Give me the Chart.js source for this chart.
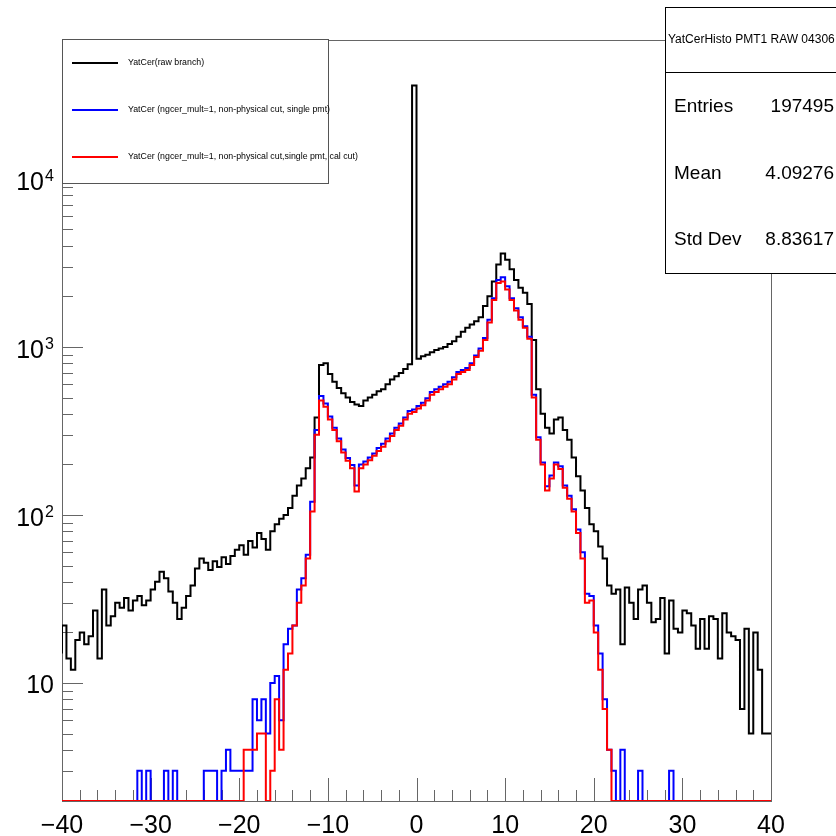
<!DOCTYPE html>
<html>
<head>
<meta charset="utf-8">
<title>YatCerHisto PMT1 RAW 04306</title>
<script src="https://cdn.jsdelivr.net/npm/chart.js@4.4.1/dist/chart.umd.min.js"></script>
<style>
  html, body { margin: 0; padding: 0; background: #fff; }
  #wrap { width: 836px; height: 836px; }
</style>
</head>
<body>
<div id="wrap"><canvas id="yatcer" width="836" height="836"></canvas></div>
<script>
// histogram binning (160 bins of 0.5 from -40 to 40)
const binLow = -40;
const binWidth = 0.5;

// YatCer (raw branch)
const rawCounts = [
  15, 22, 14, 12, 18, 20, 17, 19, 27, 14,
  36, 22, 25, 30, 28, 32, 27, 31, 33, 29,
  31, 36, 40, 46, 42, 35, 30, 24, 28, 33,
  38, 48, 55, 52, 47, 53, 49, 56, 51, 57,
  62, 66, 58, 70, 64, 78, 72, 62, 80, 88,
  95, 100, 110, 130, 150, 165, 190, 220, 380, 780,
  800, 690, 620, 570, 530, 500, 470, 455, 445, 480,
  500, 520, 545, 560, 600, 640, 670, 700, 740, 790,
  36000, 850, 880, 900, 930, 960, 980, 1000, 1040, 1080,
  1150, 1230, 1300, 1360, 1420, 1500, 1750, 2000, 2450, 3100,
  3600, 3300, 2900, 2500, 2250, 2100, 1800, 1100, 560, 400,
  330, 305, 370, 380, 320, 280, 220, 170, 140, 110,
  88, 80, 65, 55, 38, 34, 36, 17, 37, 30,
  24, 36, 38, 30, 23, 24, 32, 15, 31, 21,
  20, 27, 26, 22, 16, 24, 16, 25, 24, 14,
  26, 20, 19, 18, 7, 21, 5, 20, 12, 5
];

// YatCer (ngcer_mult=1, non-physical cut, single pmt)
const singlePmtCounts = [
  0, 0, 0, 0, 0, 0, 0, 0, 0, 0,
  0, 0, 0, 0, 0, 0, 0, 0, 3, 0,
  3, 0, 0, 0, 3, 0, 3, 0, 0, 0,
  0, 0, 0, 3, 3, 3, 0, 3, 4, 3,
  3, 3, 3, 3, 8, 6, 8, 5, 10, 11,
  6, 17, 21, 22, 36, 42, 58, 120, 320, 510,
  460, 385, 330, 285, 245, 218, 198, 150, 200, 208,
  220, 232, 250, 265, 285, 305, 330, 350, 380, 415,
  425, 445, 465, 495, 540, 560, 580, 600, 620, 660,
  710, 730, 750, 800, 890, 980, 1130, 1450, 1950, 2500,
  2600, 2300, 1950, 1700, 1500, 1330, 1150, 520, 290, 205,
  148, 172, 205, 195, 150, 130, 108, 82, 60, 34,
  33, 22, 15, 8, 4, 3, 0, 4, 0, 0,
  0, 3, 0, 0, 0, 0, 0, 0, 3, 0,
  0, 0, 0, 0, 0, 0, 0, 0, 0, 0,
  0, 0, 0, 0, 0, 0, 0, 0, 0, 0
];

// YatCer (ngcer_mult=1, non-physical cut,single pmt, cal cut)
const calCutCounts = [
  0, 0, 0, 0, 0, 0, 0, 0, 0, 0,
  0, 0, 0, 0, 0, 0, 0, 0, 0, 0,
  0, 0, 0, 0, 0, 0, 0, 0, 0, 0,
  0, 0, 0, 0, 0, 0, 0, 0, 0, 0,
  0, 0, 4, 4, 4, 5, 5, 0, 3, 8,
  4, 12, 15, 22, 30, 38, 55, 105, 300, 480,
  440, 370, 320, 275, 235, 210, 190, 138, 190, 200,
  212, 225, 240, 255, 275, 295, 320, 340, 370, 400,
  410, 430, 450, 480, 520, 540, 560, 580, 600, 640,
  690, 710, 730, 780, 870, 950, 1100, 1400, 1900, 2400,
  2450, 2200, 1900, 1650, 1450, 1300, 1120, 500, 280, 200,
  140, 165, 200, 188, 145, 125, 105, 78, 55, 30,
  31, 20, 12, 7, 4, 0, 0, 0, 0, 0,
  0, 0, 0, 0, 0, 0, 0, 0, 0, 0,
  0, 0, 0, 0, 0, 0, 0, 0, 0, 0,
  0, 0, 0, 0, 0, 0, 0, 0, 0, 0
];

const seriesLabels = [
  'YatCer(raw branch)',
  'YatCer (ngcer_mult=1, non-physical cut, single pmt)',
  'YatCer (ngcer_mult=1, non-physical cut,single pmt, cal cut)'
];
const seriesColors = ['#000000', '#0000ff', '#ff0000'];

const xTicks = [-40, -30, -20, -10, 0, 10, 20, 30, 40];
const yTicks = [10, 100, 1000, 10000];

const statsTitle = 'YatCerHisto PMT1 RAW 04306';
const statsNames = ['Entries', 'Mean', 'Std Dev'];
const statsValues = ['197495', '4.09276', '8.83617'];

const yMin = 1.985;
const yMax = 67100;
const FONT = '"Liberation Sans", Arial, Helvetica, sans-serif';

// bins -> step points (left edges + closing right edge), empty bins sit on the axis like ROOT
const toSteps = (counts) => {
  const pts = counts.map((c, i) => ({ x: binLow + i * binWidth, y: Math.max(c, yMin) }));
  pts.push({ x: binLow + counts.length * binWidth, y: pts[pts.length - 1].y });
  return pts;
};

const rootStyle = {
  id: 'rootStyle',
  beforeDatasetsDraw(chart) {
    const { ctx, chartArea: a, scales: { x, y } } = chart;
    ctx.save();
    ctx.strokeStyle = '#666';
    ctx.lineWidth = 1;
    ctx.strokeRect(a.left + 0.5, a.top + 0.5, a.right - a.left, a.bottom - a.top);
    ctx.beginPath();
    // x ticks: minor every 2, major every 10
    for (let v = xTicks[0]; v <= xTicks[xTicks.length - 1]; v += 2) {
      const px = Math.round(x.getPixelForValue(v)) + 0.5;
      const len = v % 10 === 0 ? 23 : 11;
      ctx.moveTo(px, a.bottom);
      ctx.lineTo(px, a.bottom - len);
    }
    // y ticks: decades long, 2..9 short
    for (let e = 0; e <= 4; e++) {
      for (let k = 1; k <= 9; k++) {
        const v = k * Math.pow(10, e);
        if (v < yMin || v > yMax) continue;
        const py = Math.round(y.getPixelForValue(v)) + 0.5;
        ctx.moveTo(a.left, py);
        ctx.lineTo(a.left + (k === 1 ? 21 : 11), py);
      }
    }
    ctx.stroke();
    ctx.restore();
  },
  afterDraw(chart) {
    const { ctx, scales: { x, y } } = chart;
    ctx.save();
    ctx.fillStyle = '#000';

    // x labels
    ctx.font = '25px ' + FONT;
    ctx.textAlign = 'center';
    ctx.textBaseline = 'alphabetic';
    xTicks.forEach(v => {
      const txt = v < 0 ? '\u2212' + Math.abs(v) : String(v);
      ctx.fillText(txt, x.getPixelForValue(v), 833);
    });

    // y labels: 10, 10^2, 10^3, 10^4
    ctx.textAlign = 'right';
    yTicks.forEach(v => {
      const py = y.getPixelForValue(v);
      const exp = Math.round(Math.log10(v));
      ctx.font = '25px ' + FONT;
      if (exp === 1) {
        ctx.fillText('10', 54, py + 10);
      } else {
        ctx.fillText('10', 44, py + 11);
        ctx.font = '16px ' + FONT;
        ctx.fillText(String(exp), 54, py + 2);
      }
    });

    // legend box
    ctx.fillStyle = '#fff';
    ctx.fillRect(62, 39, 266, 144);
    ctx.strokeStyle = '#555';
    ctx.lineWidth = 1;
    ctx.strokeRect(62.5, 39.5, 266, 144);
    const rows = [63, 110, 157];
    ctx.font = '8.8px ' + FONT;
    ctx.textAlign = 'left';
    ctx.textBaseline = 'middle';
    seriesLabels.forEach((lab, i) => {
      ctx.strokeStyle = seriesColors[i];
      ctx.lineWidth = 2;
      ctx.beginPath();
      ctx.moveTo(72, rows[i]);
      ctx.lineTo(118, rows[i]);
      ctx.stroke();
      ctx.fillStyle = '#000';
      ctx.fillText(lab, 128, rows[i]);
    });

    // stats box
    ctx.fillStyle = '#fff';
    ctx.fillRect(665, 7, 180, 266);
    ctx.strokeStyle = '#000';
    ctx.lineWidth = 1;
    ctx.strokeRect(665.5, 7.5, 180, 266);
    ctx.beginPath();
    ctx.moveTo(665, 72.5);
    ctx.lineTo(836, 72.5);
    ctx.stroke();
    ctx.fillStyle = '#000';
    ctx.font = '12px ' + FONT;
    ctx.textAlign = 'left';
    ctx.fillText(statsTitle, 668, 40);
    const statY = [107, 174, 240];
    ctx.font = '19px ' + FONT;
    statsNames.forEach((n, i) => {
      ctx.textAlign = 'left';
      ctx.fillText(n, 674, statY[i]);
      ctx.textAlign = 'right';
      ctx.fillText(statsValues[i], 834, statY[i]);
    });
    ctx.restore();
  }
};

const series = [rawCounts, singlePmtCounts, calCutCounts];

const data = {
  datasets: series.map((counts, i) => ({
    label: seriesLabels[i],
    data: toSteps(counts),
    borderColor: seriesColors[i],
    backgroundColor: seriesColors[i],
    borderWidth: 2,
    pointRadius: 0,
    stepped: 'after',
    fill: false,
    order: 3 - i
  }))
};

const config = {
  type: 'line',
  data: data,
  options: {
    responsive: false,
    animation: false,
    devicePixelRatio: 1,
    layout: { padding: { left: 62, top: 40, right: 65, bottom: 35 } },
    scales: {
      x: {
        type: 'linear',
        min: xTicks[0],
        max: xTicks[xTicks.length - 1],
        display: false
      },
      y: {
        type: 'logarithmic',
        min: yMin,
        max: yMax,
        display: false
      }
    },
    plugins: {
      legend: { display: false },
      tooltip: { enabled: false }
    }
  },
  plugins: [rootStyle]
};

new Chart(document.getElementById('yatcer'), config);
</script>
</body>
</html>
